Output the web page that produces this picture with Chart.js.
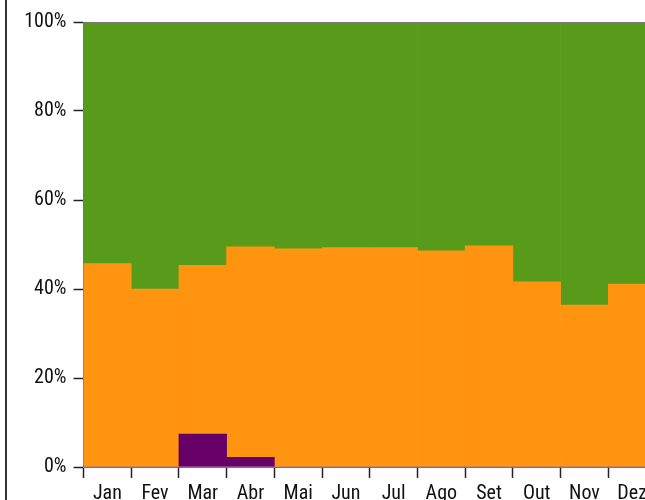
<!DOCTYPE html>
<html>
<head>
<meta charset="utf-8">
<script src="https://cdn.jsdelivr.net/npm/chart.js@4/dist/chart.umd.min.js"></script>
<style>
  html, body { margin: 0; padding: 0; background: #fff; overflow: hidden; width: 645px; height: 500px; }
  #wrap { position: absolute; left: 0; top: 0; width: 680px; height: 520px; }
  #frame { position: absolute; left: 5px; top: 0; width: 0; height: 500px; border-left: 2px solid #333; }
</style>
</head>
<body>
<div id="wrap"><canvas id="c" width="680" height="520"></canvas></div>
<div id="frame"></div>
<script>
const categories = ['Jan','Fev','Mar','Abr','Mai','Jun','Jul','Ago','Set','Out','Nov','Dez'];
const purpleValues = [0, 0, 7.4, 2.2, 0, 0, 0, 0, 0, 0, 0, 0];
const orangeValues = [45.7, 40.0, 37.9, 47.3, 49.0, 49.3, 49.3, 48.6, 49.7, 41.6, 36.4, 41.1];
const greenValues  = [54.3, 60.0, 54.7, 50.5, 51.0, 50.7, 50.7, 51.4, 50.3, 58.4, 63.6, 58.9];
const yTicks = [0, 20, 40, 60, 80, 100];

const FONT = "'Liberation Sans Narrow', 'Roboto Condensed', 'DejaVu Sans Condensed', sans-serif";

const topLine = {
  id: 'topLine',
  afterDraw(chart) {
    const a = chart.chartArea, ctx = chart.ctx;
    ctx.save();
    ctx.strokeStyle = '#777';
    ctx.lineWidth = 1;
    ctx.beginPath();
    ctx.moveTo(a.left, a.top + 0.5);
    ctx.lineTo(a.right, a.top + 0.5);
    ctx.stroke();
    ctx.restore();
  }
};

new Chart(document.getElementById('c'), {
  type: 'bar',
  data: {
    labels: categories,
    datasets: [
      { label: 'A', data: purpleValues, backgroundColor: '#660066' },
      { label: 'B', data: orangeValues, backgroundColor: '#FF9410' },
      { label: 'C', data: greenValues, backgroundColor: '#589B1A' }
    ]
  },
  options: {
    responsive: false,
    animation: false,
    layout: { padding: { top: 22, right: 24, left: 0, bottom: 0 } },
    datasets: { bar: { categoryPercentage: 1, barPercentage: 1, borderWidth: 0, borderSkipped: false } },
    plugins: { legend: { display: false }, tooltip: { enabled: false } },
    scales: {
      x: {
        stacked: true,
        offset: true,
        grid: { offset: true, drawOnChartArea: false, drawTicks: true, tickLength: 11, color: '#222', tickWidth: 1.5 },
        border: { display: true, color: '#777', width: 1 },
        ticks: { color: '#111', font: { family: FONT, size: 20 }, padding: 4, maxRotation: 0, autoSkip: false },
        afterFit(s) { s.height = 53; }
      },
      y: {
        stacked: true,
        min: 0, max: 100,
        afterBuildTicks(s) { s.ticks = yTicks.map(v => ({ value: v })); },
        grid: { drawOnChartArea: false, drawTicks: true, tickLength: 10, color: '#222', tickWidth: 1.5 },
        border: { display: true, color: '#777', width: 1 },
        ticks: { color: '#111', font: { family: FONT, size: 20 }, padding: 7, callback: v => v + '%' },
        afterFit(s) { s.width = 83.5; }
      }
    }
  },
  plugins: [topLine]
});
</script>
</body>
</html>
